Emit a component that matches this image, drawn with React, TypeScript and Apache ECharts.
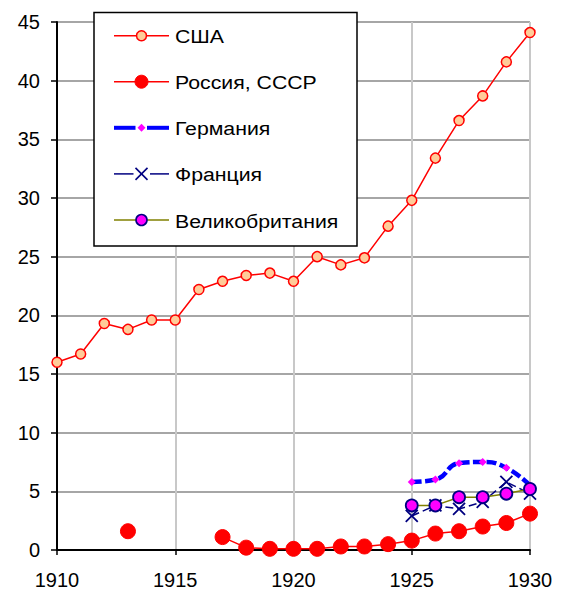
import React, { useEffect, useRef } from "react";
import * as echarts from "echarts";

const years = [1910, 1911, 1912, 1913, 1914, 1915, 1916, 1917, 1918, 1919, 1920, 1921, 1922, 1923, 1924, 1925, 1926, 1927, 1928, 1929, 1930];
const usa = [16.0, 16.7, 19.3, 18.8, 19.6, 19.6, 22.2, 22.9, 23.4, 23.6, 22.9, 25.0, 24.3, 24.9, 27.6, 29.8, 33.4, 36.6, 38.7, 41.6, 44.1];
const russia = [null, null, null, 1.6, null, null, null, 1.1, 0.2, 0.1, 0.1, 0.1, 0.3, 0.3, 0.5, 0.8, 1.4, 1.6, 2.0, 2.3, 3.1];
const lateYears = [1925, 1926, 1927, 1928, 1929, 1930];
const germany = [5.8, 6.0, 7.4, 7.5, 7.0, 5.5];
const france = [2.9, 3.8, 3.5, 4.1, 5.8, 4.8];
const britain = [3.8, 3.8, 4.5, 4.5, 4.8, 5.2];
const names = ["США", "Россия, СССР", "Германия", "Франция", "Великобритания"];

const pairs = (xs: number[], ys: (number | null)[]) => xs.map((x, i) => [x, ys[i]]);

const FONT = "'Liberation Sans', Arial, sans-serif";

function legendGraphics() {
  const rows = [35.7, 81.7, 127.8, 173.9, 220];
  const x0 = 114, x1 = 169, cx = 141.5;
  const els: any[] = [
    { type: "rect", shape: { x: 94, y: 12.5, width: 263, height: 233.5 }, style: { fill: "#fff", stroke: "#000", lineWidth: 1.5 } },
  ];
  const line = (y: number, a: number, b: number, color: string, w: number) => ({
    type: "line", shape: { x1: a, y1: y, x2: b, y2: y }, style: { stroke: color, lineWidth: w },
  });
  // США
  els.push(line(rows[0], x0, x1, "#ff0000", 1.5));
  els.push({ type: "circle", shape: { cx, cy: rows[0], r: 5 }, style: { fill: "#ffcc99", stroke: "#ff0000", lineWidth: 1.5 } });
  // Россия
  els.push(line(rows[1], x0, x1, "#ff0000", 1.5));
  els.push({ type: "circle", shape: { cx, cy: rows[1], r: 6.5 }, style: { fill: "#ff0000", stroke: "#ff0000", lineWidth: 1 } });
  // Германия
  els.push(line(rows[2], x0, 135.5, "#0000ff", 4));
  els.push(line(rows[2], 147, x1, "#0000ff", 4));
  els.push({ type: "polygon", shape: { points: [[cx, rows[2] - 4], [cx + 4, rows[2]], [cx, rows[2] + 4], [cx - 4, rows[2]]] }, style: { fill: "#ff00ff" } });
  // Франция
  els.push(line(rows[3], x0, 133.5, "#000080", 1.5));
  els.push(line(rows[3], 150, x1, "#000080", 1.5));
  els.push(line(rows[3], 0, 0, "#000080", 0));
  els.push({ type: "polyline", shape: { points: [[cx - 6, rows[3] - 6], [cx + 6, rows[3] + 6]] }, style: { stroke: "#000080", lineWidth: 1.6, fill: null } });
  els.push({ type: "polyline", shape: { points: [[cx + 6, rows[3] - 6], [cx - 6, rows[3] + 6]] }, style: { stroke: "#000080", lineWidth: 1.6, fill: null } });
  // Великобритания
  els.push(line(rows[4], x0, x1, "#808000", 1.5));
  els.push({ type: "circle", shape: { cx, cy: rows[4], r: 5.5 }, style: { fill: "#ff00ff", stroke: "#000080", lineWidth: 1.6 } });
  names.forEach((n, i) => {
    els.push({
      type: "text",
      x: 175,
      y: rows[i] + 1,
      scaleX: 1.12,
      style: { text: n, x: 0, y: 0, fill: "#000", fontSize: 19, fontFamily: FONT, align: "left", verticalAlign: "middle" },
    });
  });
  return { type: "group", z: 100, zlevel: 0, children: els.map((e) => ({ ...e, z: 100 })) };
}

export default function App() {
  const ref = useRef<HTMLDivElement>(null);
  useEffect(() => {
    const chart = echarts.init(ref.current!, null, { renderer: "svg" });
    chart.setOption({
      animation: false,
      backgroundColor: "#ffffff",
      grid: { left: 57, right: 41, top: 22, bottom: 43, containLabel: false },
      xAxis: {
        type: "value",
        min: 1910,
        max: 1930,
        interval: 5,
        axisLine: { lineStyle: { color: "#000", width: 2 } },
        axisTick: { show: true, length: 5, lineStyle: { color: "#000", width: 1.5 } },
        axisLabel: { color: "#000", fontSize: 20, fontFamily: FONT, margin: 20, formatter: (v: number) => String(v) },
        splitLine: { show: true, lineStyle: { color: "#c8c8c8", width: 2 } },
      },
      yAxis: {
        type: "value",
        min: 0,
        max: 45,
        interval: 5,
        axisLine: { show: true, lineStyle: { color: "#000", width: 2 } },
        axisTick: { show: true, length: 6, lineStyle: { color: "#000", width: 1.5 } },
        axisLabel: { color: "#000", fontSize: 20, fontFamily: FONT, margin: 17 },
        splitLine: { show: true, lineStyle: { color: "#a6a6a6", width: 2 } },
      },
      graphic: [legendGraphics()],
      series: [
        {
          name: names[0],
          type: "line",
          data: pairs(years, usa),
          symbol: "circle",
          symbolSize: 10,
          lineStyle: { color: "#ff0000", width: 1.5 },
          itemStyle: { color: "#ffcc99", borderColor: "#ff0000", borderWidth: 1.5 },
        },
        {
          name: names[1],
          type: "line",
          data: pairs(years, russia),
          symbol: "circle",
          symbolSize: 15,
          lineStyle: { color: "#ff0000", width: 1.5 },
          itemStyle: { color: "#ff0000", borderColor: "#ff0000", borderWidth: 1 },
        },
        {
          name: names[2],
          type: "line",
          data: pairs(lateYears, germany),
          smooth: true,
          symbol: "diamond",
          symbolSize: 8,
          lineStyle: { color: "#0000ff", width: 4.5, type: [10, 3.5] },
          itemStyle: { color: "#ff00ff", borderColor: "#ff00ff", borderWidth: 0 },
        },
        {
          name: names[3],
          type: "line",
          data: pairs(lateYears, france),
          symbol: "path://M0,0L10,10M10,0L0,10",
          symbolSize: 12,
          lineStyle: { color: "#000080", width: 1.5, type: [8, 4] },
          itemStyle: { color: "none", borderColor: "#000080", borderWidth: 1.8 },
        },
        {
          name: names[4],
          type: "line",
          data: pairs(lateYears, britain),
          symbol: "circle",
          symbolSize: 12,
          lineStyle: { color: "#808000", width: 1.5 },
          itemStyle: { color: "#ff00ff", borderColor: "#000080", borderWidth: 1.8 },
        },
      ],
    });
    return () => chart.dispose();
  }, []);
  return <div ref={ref} style={{ width: 571, height: 593, position: "absolute", left: 0, top: 0 }} />;
}
